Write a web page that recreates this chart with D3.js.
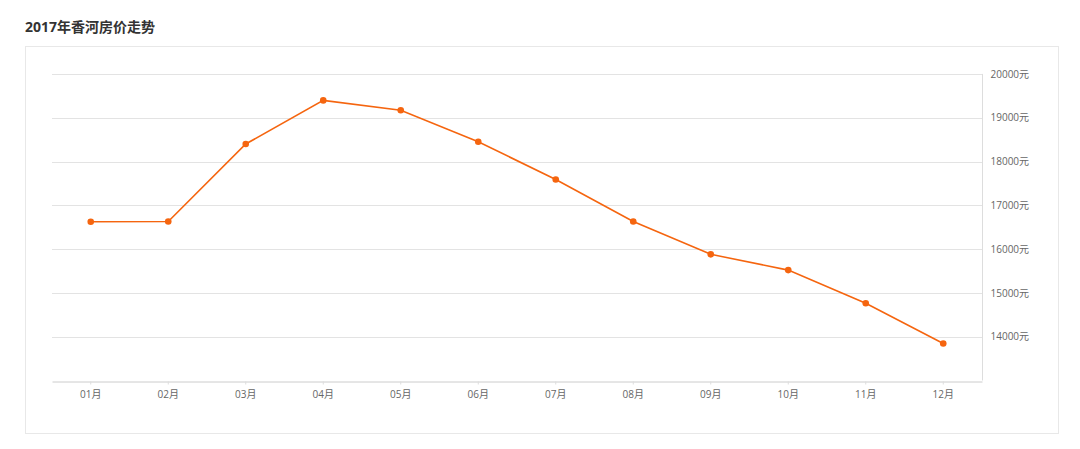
<!DOCTYPE html>
<html><head><meta charset="utf-8">
<script src="https://cdn.jsdelivr.net/npm/d3@7"></script>
<style>
body{margin:0;background:#fff;font-family:"Open Sans","Noto Sans CJK SC",sans-serif;}
</style></head>
<body>
<svg id="c" width="1080" height="449"></svg>
<script>
const title = "2017年香河房价走势";
const months = ["01月","02月","03月","04月","05月","06月","07月","08月","09月","10月","11月","12月"];
const prices = [16625,16630,18400,19395,19170,18450,17590,16630,15880,15520,14765,13845];
const yTicks = [14000,15000,16000,17000,18000,19000,20000];

const svg = d3.select("#c");
const font = "'Open Sans','Noto Sans CJK SC',sans-serif";

svg.append("text").attr("x",25).attr("y",32).text(title)
  .attr("font-size",14).attr("font-weight","bold").attr("fill","#333")
  .attr("font-family",font);

svg.append("rect").attr("x",25.5).attr("y",46.5).attr("width",1033).attr("height",387)
  .attr("fill","none").attr("stroke","#e8e8e8");

const L=52, R=982, T=73.9, B=380.5;
const x = d3.scaleBand().domain(months).range([L,R]);
const y = d3.scaleLinear().domain([13000,20000]).range([B,T]);

// gridlines
svg.append("g").selectAll("line").data(yTicks).join("line")
  .attr("x1",L).attr("x2",R).attr("y1",d=>Math.round(y(d))+0.5).attr("y2",d=>Math.round(y(d))+0.5)
  .attr("stroke","#e3e3e3");

// right axis
const ya = svg.append("g").attr("transform",`translate(${R+0.5},0)`)
  .call(d3.axisRight(y).tickValues(yTicks).tickSize(0).tickPadding(8).tickFormat(d=>d+"元"));
ya.select(".domain").attr("stroke","#ddd").attr("d",`M0,${T}V${B}`);
ya.selectAll("text").attr("fill","#666").attr("font-size",10).attr("font-family",font);

// bottom axis
const xa = svg.append("g").attr("transform",`translate(0,${Math.round(B)+0.5})`)
  .call(d3.axisBottom(x).tickSize(3).tickPadding(6).tickSizeOuter(0));
xa.select(".domain").attr("stroke","#ccc");
xa.selectAll(".tick line").attr("stroke","#ddd");
xa.selectAll("text").attr("fill","#666").attr("font-size",10).attr("font-family",font);

const cx = d=>x(d)+x.bandwidth()/2;
const data = months.map((m,i)=>({m,v:prices[i]}));
svg.append("path").datum(data)
  .attr("d",d3.line().x(d=>cx(d.m)).y(d=>y(d.v)))
  .attr("fill","none").attr("stroke","#f5650f").attr("stroke-width",1.6);
svg.append("g").selectAll("circle").data(data).join("circle")
  .attr("cx",d=>cx(d.m)).attr("cy",d=>y(d.v)).attr("r",3.3).attr("fill","#f5650f");
</script>
</body></html>
